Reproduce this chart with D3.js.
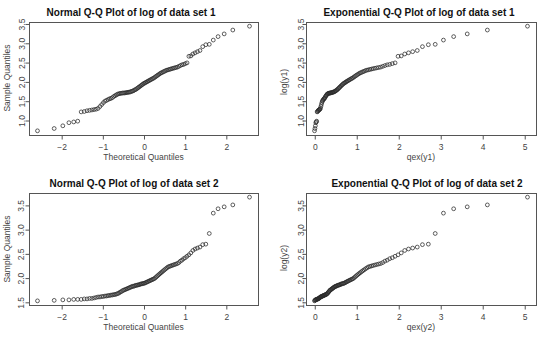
<!DOCTYPE html>
<html>
<head>
<meta charset="utf-8">
<script src="https://cdn.jsdelivr.net/npm/d3@7"></script>
<style>
  body { margin: 0; background: #fff; }
  svg { display: block; font-family: Arial, 'Liberation Sans', sans-serif; }
</style>
</head>
<body>
<svg id="chart" width="540" height="344"></svg>
<script>
// sorted log values (n = 100)
const logY1 = [
  0.72, 0.78, 0.85, 0.93, 0.95, 0.97, 1.21, 1.22, 1.24, 1.25,
  1.26, 1.27, 1.28, 1.30, 1.35, 1.40, 1.45, 1.49, 1.51, 1.53,
  1.55, 1.56, 1.58, 1.61, 1.63, 1.65, 1.67, 1.68, 1.69, 1.69,
  1.70, 1.70, 1.70, 1.71, 1.71, 1.72, 1.72, 1.73, 1.74, 1.75,
  1.76, 1.78, 1.79, 1.81, 1.83, 1.85, 1.87, 1.89, 1.91, 1.93,
  1.95, 1.96, 1.98, 1.99, 2.01, 2.02, 2.04, 2.05, 2.07, 2.08,
  2.10, 2.12, 2.14, 2.16, 2.18, 2.20, 2.22, 2.23, 2.25, 2.26,
  2.28, 2.29, 2.30, 2.31, 2.32, 2.33, 2.34, 2.35, 2.36, 2.37,
  2.39, 2.41, 2.43, 2.44, 2.46, 2.48, 2.65, 2.66, 2.71, 2.74,
  2.77, 2.80, 2.90, 2.95, 2.96, 3.07, 3.16, 3.23, 3.33, 3.43
];
const logY2 = [
  1.52, 1.53, 1.54, 1.54, 1.55, 1.55, 1.55, 1.56, 1.56, 1.57,
  1.57, 1.58, 1.59, 1.60, 1.60, 1.61, 1.61, 1.62, 1.62, 1.63,
  1.63, 1.64, 1.64, 1.65, 1.65, 1.66, 1.67, 1.68, 1.70, 1.71,
  1.73, 1.74, 1.75, 1.76, 1.77, 1.78, 1.79, 1.80, 1.81, 1.82,
  1.82, 1.83, 1.84, 1.84, 1.85, 1.85, 1.86, 1.87, 1.87, 1.88,
  1.88, 1.89, 1.90, 1.91, 1.92, 1.93, 1.94, 1.95, 1.96, 1.97,
  1.98, 2.00, 2.02, 2.04, 2.06, 2.08, 2.10, 2.12, 2.14, 2.16,
  2.18, 2.20, 2.22, 2.23, 2.24, 2.25, 2.26, 2.27, 2.28, 2.29,
  2.31, 2.34, 2.36, 2.39, 2.41, 2.44, 2.47, 2.51, 2.56, 2.59,
  2.61, 2.63, 2.68, 2.69, 2.91, 3.33, 3.42, 3.46, 3.50, 3.66
];

const normTicks = [-2, -1, 0, 1, 2];
const expTicks = [0, 1, 2, 3, 4, 5];
const yTicks1 = [1.0, 1.5, 2.0, 2.5, 3.0, 3.5];
const yTicks2 = [1.5, 2.0, 2.5, 3.0, 3.5];

// inverse normal cdf (Acklam)
function qnorm(p) {
  const a = [-39.69683028665376, 220.9460984245205, -275.9285104469687, 138.3577518672690, -30.66479806614716, 2.506628277459239];
  const b = [-54.47609879822406, 161.5858368580409, -155.6989798598866, 66.80131188771972, -13.28068155288572];
  const c = [-0.007784894002430293, -0.3223964580411365, -2.400758277161838, -2.549671010115819, 4.374664141464968, 2.938163982698783];
  const d = [0.007784695709041462, 0.3224671290700398, 2.445134137142996, 3.754408661907416];
  const pl = 0.02425;
  if (p < pl || p > 1 - pl) {
    const q = Math.sqrt(-2 * Math.log(p < pl ? p : 1 - p));
    const v = (((((c[0] * q + c[1]) * q + c[2]) * q + c[3]) * q + c[4]) * q + c[5]) /
      ((((d[0] * q + d[1]) * q + d[2]) * q + d[3]) * q + 1);
    return p < pl ? v : -v;
  }
  const q = p - 0.5, r = q * q;
  return (((((a[0] * r + a[1]) * r + a[2]) * r + a[3]) * r + a[4]) * r + a[5]) * q /
    (((((b[0] * r + b[1]) * r + b[2]) * r + b[3]) * r + b[4]) * r + 1);
}

// theoretical quantiles: qqnorm uses ppoints, qex uses (i - 3/8) / (n + 1/4)
const theo = {
  norm: (i, n) => qnorm((i + 0.5) / n),
  exp: (i, n) => -Math.log(1 - (i + 1 - 0.375) / (n + 0.25))
};

const panels = [
  { title: 'Normal Q-Q Plot of log of data set 1', xlab: 'Theoretical Quantiles', ylab: 'Sample Quantiles',
    values: logY1, kind: 'norm', xTicks: normTicks, yTicks: yTicks1,
    box: [29, 22, 258, 135], titleX: 131, ylabY: 78, tickOff: 8 },
  { title: 'Exponential Q-Q Plot of log of data set 1', xlab: 'qex(y1)', ylab: 'log(y1)',
    values: logY1, kind: 'exp', xTicks: expTicks, yTicks: yTicks1,
    box: [306, 22, 536, 135], titleX: 419, ylabY: 82, tickOff: 6 },
  { title: 'Normal Q-Q Plot of log of data set 2', xlab: 'Theoretical Quantiles', ylab: 'Sample Quantiles',
    values: logY2, kind: 'norm', xTicks: normTicks, yTicks: yTicks2,
    box: [29, 193, 258, 305], titleX: 134, ylabY: 249, tickOff: 9 },
  { title: 'Exponential Q-Q Plot of log of data set 2', xlab: 'qex(y2)', ylab: 'log(y2)',
    values: logY2, kind: 'exp', xTicks: expTicks, yTicks: yTicks2,
    box: [306, 193, 536, 305], titleX: 427, ylabY: 258, tickOff: 6 }
];

const svg = d3.select('#chart');

// R style 4% axis expansion
function padded(ext) {
  const p = (ext[1] - ext[0]) * 0.04;
  return [ext[0] - p, ext[1] + p];
}

function drawPanel(cfg) {
  const [x0, y0, x1, y1] = cfg.box;
  const n = cfg.values.length;
  const pts = cfg.values.map((v, i) => ({ q: theo[cfg.kind](i, n), v }));

  const x = d3.scaleLinear().domain(padded(d3.extent(pts, d => d.q))).range([x0, x1]);
  const y = d3.scaleLinear().domain(padded(d3.extent(pts, d => d.v))).range([y1, y0]);

  const g = svg.append('g');

  g.append('rect')
    .attr('x', x0 + 0.5)
    .attr('y', y0 + 0.5)
    .attr('width', x1 - x0)
    .attr('height', y1 - y0)
    .attr('fill', 'none')
    .attr('stroke', '#555')
    .attr('stroke-width', 1);

  const xAxis = g.append('g')
    .attr('transform', `translate(0.5,${y1 + 0.5})`)
    .call(d3.axisBottom(x).tickValues(cfg.xTicks).tickSize(4).tickPadding(4).tickFormat(d3.format('d')));
  xAxis.select('.domain').remove();

  const yAxis = g.append('g')
    .attr('transform', `translate(${x0 + 0.5},0.5)`)
    .call(d3.axisLeft(y).tickValues(cfg.yTicks).tickSize(4).tickFormat(d3.format('.1f')));
  yAxis.select('.domain').remove();
  yAxis.selectAll('.tick text')
    .attr('x', 0)
    .attr('dy', null)
    .attr('y', -(cfg.tickOff - 3))
    .attr('transform', 'rotate(-90)')
    .attr('text-anchor', 'middle');

  [xAxis, yAxis].forEach(a => {
    a.attr('font-family', null).attr('font-size', 8.5);
    a.selectAll('line').attr('stroke', '#555');
    a.selectAll('text').attr('fill', '#444');
  });

  g.selectAll('circle')
    .data(pts)
    .join('circle')
    .attr('cx', d => x(d.q))
    .attr('cy', d => y(d.v))
    .attr('r', 1.9)
    .attr('fill', 'none')
    .attr('stroke', '#2a2a2a')
    .attr('stroke-width', 0.75);

  g.append('text')
    .attr('x', cfg.titleX)
    .attr('y', y0 - 6.5)
    .attr('text-anchor', 'middle')
    .attr('font-size', 10)
    .attr('font-weight', 'bold')
    .attr('fill', '#111')
    .text(cfg.title);

  g.append('text')
    .attr('x', (x0 + x1) / 2)
    .attr('y', y1 + 25)
    .attr('text-anchor', 'middle')
    .attr('font-size', 8.5)
    .attr('fill', '#444')
    .text(cfg.xlab);

  g.append('text')
    .attr('transform', `translate(${x0 - 19},${cfg.ylabY}) rotate(-90)`)
    .attr('text-anchor', 'middle')
    .attr('font-size', 8.5)
    .attr('fill', '#444')
    .text(cfg.ylab);
}

panels.forEach(drawPanel);
</script>
</body>
</html>
